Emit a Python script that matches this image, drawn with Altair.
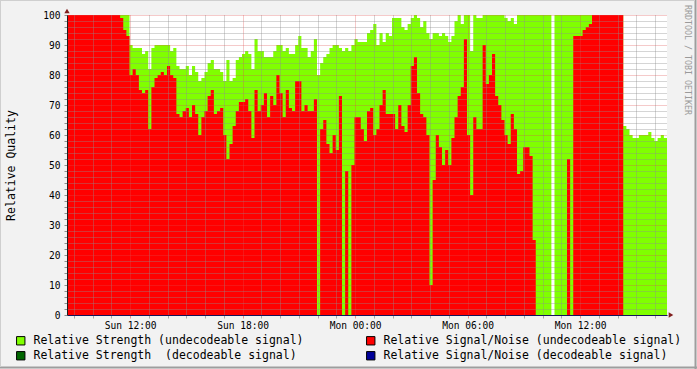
import altair as alt
import pandas as pd

# ---- data (10-minute samples) ----
# x is minutes since the left edge of the graph (Sun 08:38)
STEP_MIN = 10
N_SAMPLES = 192

strength = (
    [100] * 17 + [100, 100, 100]
    + [90, 89, 89, 89, 87, 88, 82, 89, 90, 90]
    + [90, 90, 90, 88, 89, 83, 82, 82, 83, 80]
    + [83, 81, 78, 79, 81, 84, 85, 82, 82, 81]
    + [78, 85, 78, 79, 85, 86, 87, 88, 87, 82]
    + [92, 88, 88, 86, 86, 86, 88, 90, 90, 88]
    + [89, 87, 87, 90, 93, 89, 89, 86, 88, 92]
    + [80, 84, 86, 87, 89, 90, 90, 89, 88, 89]
    + [88, 90, 92, 91, 91, 91, 94, 95, 97, 90]
    + [94, 91, 94, 93, 99, 99, 99, 96, 95, 97]
    + [99, 100, 99, 96, 98, 94, 92, 94, 94, 93]
    + [94, 93, 91, 93, 98, 100, 97, 100, 100, 88]
    + [100, 99, 99, 100, 100, 100, 100, 100, 100, 100]
    + [99, 98, 99, 97, 100, 100, 100, 100, 100, 100]
    + [100, 100, 100, 100, 100, 0, 100, 100, 100, 100]
    + [100] * 18
    + [63, 62, 60, 59, 59, 60, 60, 60, 61, 59, 58, 59, 60, 59]
)

snr = (
    [100] * 17 + [99, 95, 93]
    + [80, 82, 80, 75, 74, 75, 62, 76, 79, 80]
    + [81, 80, 83, 80, 79, 67, 66, 68, 69, 66]
    + [70, 67, 60, 66, 68, 73, 75, 67, 68, 69]
    + [60, 52, 57, 63, 68, 71, 71, 72, 68, 59]
    + [75, 68, 70, 74, 66, 73, 70, 80, 74, 66]
    + [75, 69, 68, 78, 78, 68, 70, 68, 68, 72]
    + [0, 62, 65, 57, 54, 60, 55, 73, 0, 48]
    + [0, 50, 66, 66, 62, 58, 68, 69, 60, 62]
    + [70, 75, 67, 67, 67, 62, 70, 63, 61, 70]
    + [83, 86, 74, 67, 66, 60, 10, 45, 60, 56]
    + [50, 55, 50, 59, 66, 73, 76, 92, 60, 40]
    + [66, 62, 62, 90, 77, 80, 87, 73, 70, 65]
    + [60, 57, 67, 62, 47, 48, 56, 56, 53, 25]
    + [0] * 10
    + [52, 0, 93, 93, 93, 95, 96, 97]
    + [100] * 10
    + [0] * 14
)

# time-axis labels (minutes since Sun 08:38)
TICK_MINUTES = [202, 562, 922, 1282, 1642]
TICK_LABELS = ["Sun 12:00", "Sun 18:00", "Mon 00:00", "Mon 06:00", "Mon 12:00"]
HOUR_MINUTES = list(range(22, 1921, 60))
Y_MINOR = list(range(0, 101, 2))

S_UND = "Relative Strength (undecodeable signal)"
N_UND = "Relative Signal/Noise (undecodeable signal)"
S_DEC = "Relative Strength \u00a0(decodeable signal)"
N_DEC = "Relative Signal/Noise (decodeable signal)"
# legend is filled column by column: col 1 = strength, col 2 = signal/noise
SERIES = [S_UND, S_DEC, N_UND, N_DEC]
COLORS = ["#80FF00", "#006600", "#FF0000", "#000099"]

t = [i * STEP_MIN for i in range(N_SAMPLES + 1)]
df_s = pd.DataFrame({"t": t, "value": strength + [strength[-1]], "series": S_UND})
df_n = pd.DataFrame({"t": t, "value": snr + [snr[-1]], "series": N_UND})
one = pd.DataFrame({"k": [0]})

FONT = "DejaVu Sans Mono"
MIN_GRID = "rgba(143,143,143,0.75)"
MAJ_GRID = "rgba(222,79,79,0.6)"

label_expr = " : ".join(
    f"datum.value == {m} ? '{lab}'" for m, lab in zip(TICK_MINUTES, TICK_LABELS)
) + " : ''"
x_major_test = "(datum.value - 202) % 360 === 0"

x_axis = alt.Axis(
    title=None,
    values=HOUR_MINUTES,
    labelExpr=label_expr,
    labelFont=FONT, labelFontSize=9.6, labelColor="black",
    labelOverlap=False, labelFlush=False, labelPadding=2,
    grid=True,
    gridColor={"condition": {"test": x_major_test, "value": MAJ_GRID}, "value": MIN_GRID},
    gridDash=[1, 1], gridWidth=1,
    tickSize=3,
    tickColor={"condition": {"test": x_major_test, "value": MAJ_GRID}, "value": MIN_GRID},
    domainColor="#15155a", domainWidth=1,
    zindex=1,
)

y_axis = alt.Axis(
    title="Relative Quality",
    values=Y_MINOR,
    labelExpr="datum.value % 10 === 0 ? datum.label : ''",
    labelFont=FONT, labelFontSize=9.6, labelColor="black", labelPadding=4,
    labelOverlap=False,
    grid=True,
    gridColor={"condition": {"test": "datum.value % 10 === 0", "value": MAJ_GRID}, "value": MIN_GRID},
    gridDash=[1, 1], gridWidth=1,
    tickSize=3, tickColor="#8F8F8F",
    domainColor="#1F1F1F", domainWidth=1,
    titleFont=FONT, titleFontSize=11.5, titleFontWeight="normal", titleColor="black",
    titleX=-56, titleY=150, titleAngle=270, titleAlign="center", titleBaseline="middle",
    zindex=1,
)

x = alt.X("t:Q", scale=alt.Scale(domain=[0, 1920], nice=False, zero=False), axis=x_axis)
y = alt.Y("value:Q", stack=None, scale=alt.Scale(domain=[0, 100], nice=False), axis=y_axis)

color = alt.Color(
    "series:N",
    scale=alt.Scale(domain=SERIES, range=COLORS),
    legend=alt.Legend(
        title=None, orient="none", legendX=-52, legendY=320, columns=2,
        columnPadding=60, rowPadding=2, padding=0,
        symbolType="square", symbolSize=70, symbolStrokeColor="black",
        symbolStrokeWidth=1, symbolOpacity=1,
        labelFont=FONT, labelFontSize=11.5, labelColor="black", labelLimit=0, labelOffset=7,
    ),
)

green = alt.Chart(df_s).mark_area(interpolate="step-after", opacity=1).encode(x=x, y=y, color=color)
red = alt.Chart(df_n).mark_area(interpolate="step-after", opacity=1).encode(x=x, y=y, color=color)

watermark = alt.Chart(one).mark_text(
    text="RRDTOOL / TOBI OETIKER", angle=90, font=FONT, fontSize=8.3, color="#9A9A9A",
    align="center", baseline="middle",
).encode(x=alt.value(620), y=alt.value(45))

arrow_up = alt.Chart(one).mark_point(shape="triangle-up", filled=True, color="#801F1F", size=28, opacity=1
                                     ).encode(x=alt.value(0), y=alt.value(-4))
arrow_right = alt.Chart(one).mark_point(shape="triangle-right", filled=True, color="#801F1F", size=28, opacity=1
                                        ).encode(x=alt.value(604), y=alt.value(300))

edge_right = alt.Chart(one).mark_rule(color="#9E9E9E", strokeWidth=2).encode(
    x=alt.value(628.5), y=alt.value(-15), y2=alt.value(354))
edge_bottom = alt.Chart(one).mark_rule(color="#9E9E9E", strokeWidth=2).encode(
    x=alt.value(-67), x2=alt.value(630), y=alt.value(352.5))
edge_left = alt.Chart(one).mark_rule(color="#CFCFCF", strokeWidth=1).encode(
    x=alt.value(-66.5), y=alt.value(-15), y2=alt.value(352))
edge_top = alt.Chart(one).mark_rule(color="#CFCFCF", strokeWidth=1).encode(
    x=alt.value(-67), x2=alt.value(628), y=alt.value(-14.5))

chart = alt.layer(
    green, red, watermark, arrow_up, arrow_right, edge_right, edge_bottom, edge_left, edge_top
).properties(
    width=600, height=300,
    autosize=alt.AutoSizeParams(type="none"),
    padding={"left": 67, "top": 15, "right": 30, "bottom": 54},
).configure(background="#F2F2F2").configure_view(fill="white", strokeWidth=0)

chart.save("out.html", embed_options={"renderer": "svg", "actions": False})
